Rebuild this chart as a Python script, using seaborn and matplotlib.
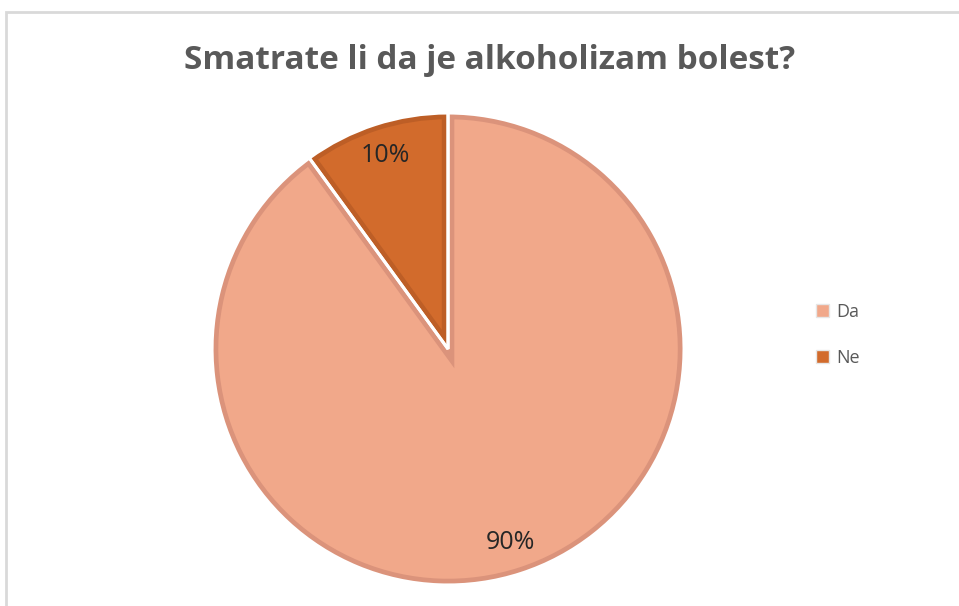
import matplotlib
matplotlib.use("Agg")
import matplotlib.pyplot as plt
import seaborn as sns
from matplotlib.patches import Patch, Rectangle

# data
labels = ["Da", "Ne"]
shares = [90, 10]
fill_colors = ["#F1A88A", "#D26B2C"]
edge_colors = ["#DB937B", "#BD5E26"]

sns.set_theme(style="white")
plt.rcParams["font.family"] = ["Open Sans", "DejaVu Sans"]

fig = plt.figure(figsize=(9.59, 6.06), dpi=100)

# outer chart frame (Excel style)
fig.patches.append(Rectangle((6 / 959, -0.05), 1.2, (606 - 12) / 606 + 0.05,
                             transform=fig.transFigure, fill=False,
                             edgecolor="#D9D9D9", linewidth=2, zorder=0))

ax = fig.add_axes([0.2088, 0.0152, 0.5168, 0.8178])

wedges, texts, autotexts = ax.pie(
    shares, colors=fill_colors, startangle=90, counterclock=False,
    autopct="%1.0f%%", pctdistance=0.86,
    wedgeprops=dict(linewidth=9),
    textprops=dict(fontsize=18, color="#262626"),
)
# inner darker border, clipped to each wedge (pie turns clipping off)
for w, ec in zip(wedges, edge_colors):
    w.set_edgecolor(ec)
    w.set_clip_on(True)
    w.set_clip_path(w)

# white separators between slices
sep, _ = ax.pie(shares, colors=["none", "none"], startangle=90, counterclock=False,
                wedgeprops=dict(edgecolor="white", linewidth=2.2, fill=False))

ax.set_xlim(-1.05, 1.05)
ax.set_ylim(-1.05, 1.05)
ax.set_aspect("equal")
ax.axis("off")

fig.text(0.51, 1 - 69 / 606, "Smatrate li da je alkoholizam bolest?", ha="center", va="baseline",
         fontsize=24, fontweight="bold", color="#595959")

handles = [Patch(facecolor=f, edgecolor="#E6E6E6", linewidth=1) for f in fill_colors]
fig.legend(handles, labels, loc="center left", bbox_to_anchor=(0.834, 0.448),
           frameon=False, fontsize=13, labelcolor="#595959",
           handlelength=0.7, handleheight=0.7, handletextpad=0.4, labelspacing=1.55)

fig.savefig("out.png", dpi=100)
